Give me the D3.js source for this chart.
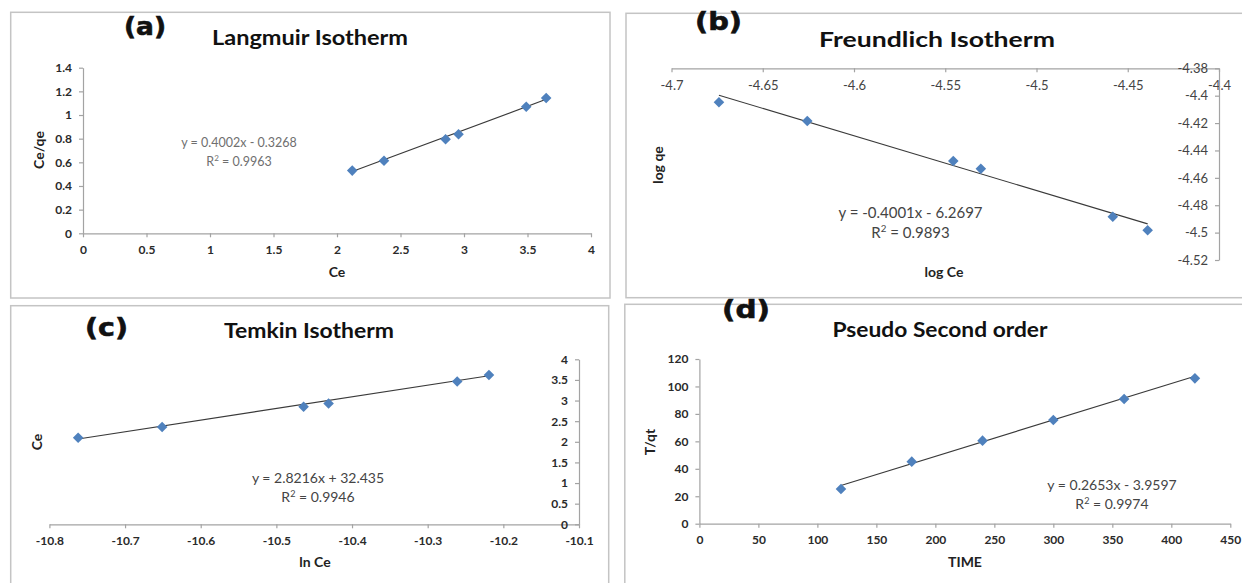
<!DOCTYPE html>
<html><head><meta charset="utf-8">
<script src="https://cdn.jsdelivr.net/npm/d3@7"></script>
<style>
html,body{margin:0;padding:0;background:#fff;}
svg{display:block;font-family:Lato,"Open Sans",sans-serif;}
</style></head>
<body>
<svg id="chart" width="1242" height="583"></svg>
<script>
// ---------- DATA ----------
// (a) Langmuir isotherm: Ce vs Ce/qe
const langmuirCe   = [2.12, 2.37, 2.855, 2.957, 3.49, 3.647];
const langmuirCeQe = [0.53, 0.614, 0.795, 0.837, 1.07, 1.144];
const langmuirFit  = [0.4002, -0.3268];
const langmuirXTicks = [0, 0.5, 1, 1.5, 2, 2.5, 3, 3.5, 4];
const langmuirYTicks = [0, 0.2, 0.4, 0.6, 0.8, 1, 1.2, 1.4];

// (b) Freundlich isotherm: log Ce vs log qe
const freundLogCe = [-4.674, -4.6256, -4.5456, -4.5305, -4.4582, -4.4391];
const freundLogQe = [-4.4048, -4.4185, -4.4477, -4.4533, -4.4884, -4.4983];
const freundFit   = [-0.4001, -6.2697];
const freundXTicks = [-4.7, -4.65, -4.6, -4.55, -4.5, -4.45, -4.4];
const freundYTicks = [-4.38, -4.4, -4.42, -4.44, -4.46, -4.48, -4.5, -4.52];

// (c) Temkin isotherm: ln Ce vs Ce
const temkinLnCe = [-10.762, -10.651, -10.464, -10.431, -10.261, -10.219];
const temkinCe   = [2.10, 2.36, 2.85, 2.93, 3.46, 3.62];
const temkinFit  = [2.8216, 32.435];
const temkinXTicks = [-10.8, -10.7, -10.6, -10.5, -10.4, -10.3, -10.2, -10.1];
const temkinYTicks = [0, 0.5, 1, 1.5, 2, 2.5, 3, 3.5, 4];

// (d) Pseudo second order: TIME vs T/qt
const pseudoTime = [120, 180, 240, 300, 360, 420];
const pseudoTqt  = [25.3, 45.2, 60.5, 75.5, 90.9, 105.9];
const pseudoFit  = [0.2653, -3.9597];
const pseudoXTicks = [0, 50, 100, 150, 200, 250, 300, 350, 400, 450];
const pseudoYTicks = [0, 20, 40, 60, 80, 100, 120];

// ---------- DRAWING ----------
const svg = d3.select("#chart");
const AXIS = "#a3a3a3", LABEL = "#2a2a2a", MARK = "#4F81BD", TREND = "#3a3a3a";

function frame(x, y, w, h) {
  svg.append("rect").attr("x", x).attr("y", y).attr("width", w).attr("height", h)
    .attr("fill", "none").attr("stroke", "#c4c4c4").attr("stroke-width", 1.5);
}

function styleAxis(g) {
  g.select(".domain").attr("stroke", AXIS).attr("stroke-width", 1.2);
  g.selectAll(".tick line").attr("stroke", AXIS).attr("stroke-width", 1.2);
  g.selectAll(".tick text").attr("fill", LABEL).attr("font-size", 12)
    .attr("font-family", "Lato, sans-serif").attr("font-weight", 700);
}

function panel(p) {
  // axes
  const gx = svg.append("g").attr("transform", `translate(0,${p.xAxisY})`)
    .call(d3.axisBottom(p.x).tickValues(p.xTicks).tickFormat(d => String(d))
      .tickSize(4).tickSizeOuter(0).tickPadding(8));
  styleAxis(gx);
  const gy = svg.append("g").attr("transform", `translate(${p.yAxisX},0)`)
    .call(d3.axisLeft(p.y).tickValues(p.yTicks).tickFormat(d => String(d))
      .tickSize(4).tickSizeOuter(0).tickPadding(7));
  styleAxis(gy);
  if (p.lightTicks) {
    gx.selectAll(".tick text").attr("font-weight", 400).attr("font-size", 13).attr("fill", "#444");
    gy.selectAll(".tick text").attr("font-weight", 400).attr("font-size", 13).attr("fill", "#444");
  }

  // trendline
  const xs = p.xs, ys = p.ys;
  const xmin = d3.min(xs), xmax = d3.max(xs);
  const f = x => p.fit[0] * x + p.fit[1];
  svg.append("line")
    .attr("x1", p.x(xmin)).attr("y1", p.y(f(xmin)))
    .attr("x2", p.x(xmax)).attr("y2", p.y(f(xmax)))
    .attr("stroke", TREND).attr("stroke-width", 1.1);

  // markers (diamonds)
  const sym = d3.symbol(d3.symbolSquare, 56);
  svg.append("g").selectAll("path").data(xs.map((x, i) => [x, ys[i]])).join("path")
    .attr("d", sym)
    .attr("transform", d => `translate(${p.x(d[0])},${p.y(d[1])}) rotate(45)`)
    .attr("fill", MARK);

  // title
  svg.append("text").attr("x", p.title.x).attr("y", p.title.y)
    .attr("text-anchor", "middle").attr("font-size", 20).attr("font-weight", 700)
    .attr("fill", "#111").attr("textLength", p.title.w).attr("lengthAdjust", "spacingAndGlyphs")
    .text(p.title.t);
  // panel letter
  svg.append("text").attr("x", p.letter.x).attr("y", p.letter.y)
    .attr("font-family", "'DejaVu Sans', sans-serif").attr("font-size", 24).attr("font-weight", 700)
    .attr("fill", "#111").attr("stroke", "#111").attr("stroke-width", 0.6)
    .attr("textLength", p.letter.w).attr("lengthAdjust", "spacingAndGlyphs")
    .text(p.letter.t);
  // axis titles
  svg.append("text").attr("x", p.xTitle.x).attr("y", p.xTitle.y)
    .attr("text-anchor", "middle").attr("dominant-baseline", "middle")
    .attr("font-size", 14).attr("font-weight", 700).attr("fill", "#222").text(p.xTitle.t);
  svg.append("text").attr("transform", `translate(${p.yTitle.x},${p.yTitle.y}) rotate(-90)`)
    .attr("text-anchor", "middle").attr("dominant-baseline", "middle")
    .attr("font-size", 14).attr("font-weight", 700).attr("fill", "#222").text(p.yTitle.t);

  // equation
  const eq = svg.append("text").attr("text-anchor", "middle")
    .attr("font-size", p.eq.fs).attr("fill", p.eq.color);
  eq.append("tspan").attr("x", p.eq.x).attr("y", p.eq.y).text(p.eq.l1);
  const r = eq.append("tspan").attr("x", p.eq.x).attr("y", p.eq.y + p.eq.dy);
  r.append("tspan").text("R");
  r.append("tspan").attr("dy", -p.eq.fs * 0.35).attr("font-size", p.eq.fs * 0.65).text("2");
  r.append("tspan").attr("dy", p.eq.fs * 0.35).text(" = " + p.eq.l2);
}

// frames
frame(10.7, 12.3, 599.3, 285.7);
frame(626, 13.3, 640, 284.4);
frame(10.7, 305.7, 598, 290);
frame(624.8, 304.3, 640, 290);

// (a)
panel({
  x: d3.scaleLinear([0, 4], [83, 591]),
  y: d3.scaleLinear([0, 1.4], [233.3, 67.7]),
  xAxisY: 233.3, yAxisX: 83,
  xTicks: langmuirXTicks, yTicks: langmuirYTicks,
  xs: langmuirCe, ys: langmuirCeQe, fit: langmuirFit,
  title: {t: "Langmuir Isotherm", x: 310, y: 45, w: 196},
  letter: {t: "(a)", x: 124, y: 35, w: 42},
  xTitle: {t: "Ce", x: 337, y: 273},
  yTitle: {t: "Ce/qe", x: 40, y: 150},
  eq: {l1: "y = 0.4002x - 0.3268", l2: "0.9963", x: 239, y: 147, dy: 18.5, fs: 12.5, color: "#6f6f6f"}
});

// (b)
panel({
  x: d3.scaleLinear([-4.7, -4.4], [671.5, 1219]),
  y: d3.scaleLinear([-4.52, -4.38], [260, 68.3]),
  xAxisY: 68.3, yAxisX: 1219,
  xTicks: freundXTicks, yTicks: freundYTicks, lightTicks: true,
  xs: freundLogCe, ys: freundLogQe, fit: freundFit,
  title: {t: "Freundlich Isotherm", x: 937, y: 46.5, w: 236},
  letter: {t: "(b)", x: 695, y: 30, w: 47},
  xTitle: {t: "log Ce", x: 944, y: 273},
  yTitle: {t: "log qe", x: 659.5, y: 165},
  eq: {l1: "y = -0.4001x - 6.2697", l2: "0.9893", x: 910.5, y: 218, dy: 19.5, fs: 15, color: "#444"}
});

// (c)
panel({
  x: d3.scaleLinear([-10.8, -10.1], [49.4, 579]),
  y: d3.scaleLinear([0, 4], [524.3, 359.3]),
  xAxisY: 524.3, yAxisX: 579,
  xTicks: temkinXTicks, yTicks: temkinYTicks,
  xs: temkinLnCe, ys: temkinCe, fit: temkinFit,
  title: {t: "Temkin Isotherm", x: 309, y: 337.5, w: 170},
  letter: {t: "(c)", x: 85, y: 336, w: 43},
  xTitle: {t: "ln Ce", x: 315, y: 563},
  yTitle: {t: "Ce", x: 38, y: 442},
  eq: {l1: "y = 2.8216x + 32.435", l2: "0.9946", x: 318, y: 482.5, dy: 19.5, fs: 14, color: "#444"}
});

// (d)
panel({
  x: d3.scaleLinear([0, 450], [699.4, 1230.3]),
  y: d3.scaleLinear([0, 120], [523.7, 359]),
  xAxisY: 523.7, yAxisX: 699.4,
  xTicks: pseudoXTicks, yTicks: pseudoYTicks,
  xs: pseudoTime, ys: pseudoTqt, fit: pseudoFit,
  title: {t: "Pseudo Second order", x: 940, y: 337, w: 215},
  letter: {t: "(d)", x: 722, y: 318, w: 48},
  xTitle: {t: "TIME", x: 965, y: 563},
  yTitle: {t: "T/qt", x: 651.7, y: 442},
  eq: {l1: "y = 0.2653x - 3.9597", l2: "0.9974", x: 1112, y: 490, dy: 19, fs: 14, color: "#444"}
});
</script>
</body></html>
